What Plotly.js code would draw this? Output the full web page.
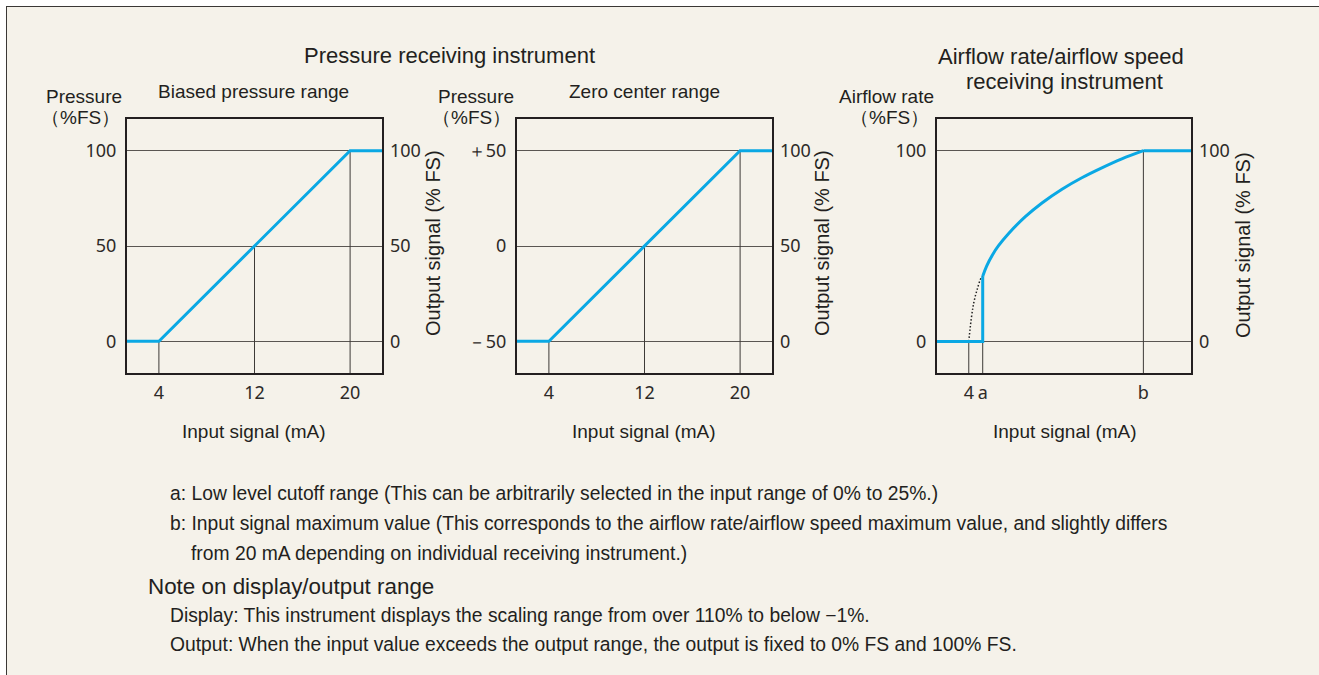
<!DOCTYPE html>
<html>
<head>
<meta charset="utf-8">
<script src="https://cdn.plot.ly/plotly-3.0.1.min.js"></script>
<style>
  html, body { margin:0; padding:0; background:#ffffff; }
  #panel { position:absolute; left:6px; top:6px; width:1313px; height:669px; background:#f5f2ea; border-top:1px solid #3a3735; border-left:1px solid #3a3735; box-sizing:border-box; }
  #chart { position:absolute; left:0; top:0; width:1319px; height:675px; }
</style>
</head>
<body>
<div id="panel"></div>
<div id="chart"></div>
<script>
// ---------------- data ----------------
// Biased pressure range: input (mA) vs pressure (%FS)
const biasedInput    = [0, 4, 20, 24];
const biasedPressure = [0, 0, 100, 100];
const biasedTicks    = [4, 12, 20];
const biasedDropY    = [0, 50, 100];
const biasedLeftVals = [0, 50, 100];
const biasedLeftText = ['0', '50', '100'];
const biasedRightText = ['0', '50', '100'];

// Zero center range
const zeroInput    = [0, 4, 20, 24];
const zeroPressure = [-50, -50, 50, 50];
const zeroTicks    = [4, 12, 20];
const zeroDropY    = [-50, 0, 50];
const zeroLeftVals = [-50, 0, 50];
const zeroLeftText = ['－50', '0', '＋50'];
const zeroRightText = ['0', '50', '100'];

// Airflow rate receiving instrument
const cutA = 5.17;   // "a" low level cutoff
const maxB = 18.67;  // "b" input signal maximum
const airStepInput = [0, 5.17, 5.17];
const airStepRate  = [0, 0, 34.2];
const airCurveInput = [5.17, 5.5, 6.0, 6.5, 7.35, 8.75, 10.15, 11.83, 13.5, 15.18, 16.86, 18.67];
const airCurveRate  = [34.2, 39.5, 45.5, 50.2, 56.6, 65.4, 72.6, 79.8, 85.8, 91.0, 95.7, 100];
const airTopInput = [18.67, 24];
const airTopRate  = [100, 100];
const airDotInput = [4, 4.2, 4.42, 4.7, 5.04, 5.17];
const airDotRate  = [0, 11.5, 20.3, 27.2, 33.4, 34.2];
const airTicks    = [4, 5.17, 18.67];
const airTickText = ['4', 'a', 'b'];
const airDropX    = [4, 5.17, 18.67];
const airDropY    = [0, 0, 100];
const airLeftVals = [0, 100];
const airLeftText = ['0', '100'];
const airRightText = ['0', '100'];

// ---------------- layout helpers ----------------
const W = 1319, H = 675;
const px = v => v / W;
const py = v => 1 - v / H;
const BLUE = '#0aa8e4';
const INK = '#231f20';
const GRID = '#5a5652';
const TXT = 'Liberation Sans, Arial, sans-serif';
const TICKF = 'Noto Sans, Open Sans, sans-serif';
const XR = [1.33, 22.67];

const traces = [];
function dropLines(xs, ys, bottom, xa, ya) {
  xs.forEach((x, i) => {
    traces.push({x: [x, x], y: [bottom, ys[i]], xaxis: xa, yaxis: ya, mode: 'lines',
      line: {color: '#3d3a37', width: 1}, hoverinfo: 'skip', showlegend: false});
  });
}
dropLines(biasedTicks, biasedDropY, -20, 'x', 'y');
dropLines(zeroTicks, zeroDropY, -70, 'x2', 'y2');
dropLines(airDropX, airDropY, -20, 'x3', 'y3');

traces.push({x: airDotInput, y: airDotRate, xaxis: 'x3', yaxis: 'y3', mode: 'lines',
  line: {color: '#222', width: 1.5, dash: '1.5px,2px', shape: 'spline'}, showlegend: false});
traces.push({x: biasedInput, y: biasedPressure, xaxis: 'x', yaxis: 'y', mode: 'lines',
  line: {color: BLUE, width: 3}, showlegend: false});
traces.push({x: zeroInput, y: zeroPressure, xaxis: 'x2', yaxis: 'y2', mode: 'lines',
  line: {color: BLUE, width: 3}, showlegend: false});
traces.push({x: airStepInput, y: airStepRate, xaxis: 'x3', yaxis: 'y3', mode: 'lines',
  line: {color: BLUE, width: 3}, showlegend: false});
traces.push({x: airCurveInput, y: airCurveRate, xaxis: 'x3', yaxis: 'y3', mode: 'lines',
  line: {color: BLUE, width: 3, shape: 'spline', smoothing: 1}, showlegend: false});
traces.push({x: airTopInput, y: airTopRate, xaxis: 'x3', yaxis: 'y3', mode: 'lines',
  line: {color: BLUE, width: 3}, showlegend: false});

function xAxis(d0, d1, anchor, vals, text) {
  return {domain: [px(d0), px(d1)], anchor: anchor, range: XR, fixedrange: true,
    tickmode: 'array', tickvals: vals, ticktext: text || vals.map(String), ticks: '',
    ticklabelstandoff: 2, showgrid: false, zeroline: false, showline: true, mirror: true,
    linecolor: INK, linewidth: 2, tickfont: {family: TICKF, size: 18, color: '#2d2a28'}};
}
function yAxis(anchor, range, vals, text) {
  return {domain: [py(373), py(119)], anchor: anchor, range: range, fixedrange: true,
    tickmode: 'array', tickvals: vals, ticktext: text, ticks: '', ticklabelstandoff: 5,
    showgrid: true, gridcolor: GRID, gridwidth: 1, zeroline: false, showline: true, mirror: true,
    linecolor: INK, linewidth: 2, tickfont: {family: TICKF, size: 18, color: '#2d2a28'}};
}
function yRight(over, anchor, range, vals, text) {
  return {overlaying: over, side: 'right', anchor: anchor, range: range, fixedrange: true,
    tickmode: 'array', tickvals: vals, ticktext: text, ticks: '', ticklabelstandoff: 7,
    showgrid: false, zeroline: false, showline: false,
    tickfont: {family: TICKF, size: 18, color: '#2d2a28'}};
}

const YR1 = [-16.7, 116.7], YR2 = [-66.7, 66.7], YR3 = [-16.5, 116.6];

function f(size) { return {family: TXT, size: size, color: INK}; }
function ann(text, x, y, opts) {
  return Object.assign({text: text, x: px(x), y: py(y), xref: 'paper', yref: 'paper',
    showarrow: false, xanchor: 'center', yanchor: 'middle', font: f(19)}, opts || {});
}
const R = {xanchor: 'right'};
function left(size) { return {xanchor: 'left', font: f(size)}; }

const annotations = [
  ann('Pressure receiving instrument', 449, 56, {font: f(22)}),
  ann('Airflow rate/airflow speed', 1061, 57, {font: f(22)}),
  ann('receiving instrument', 1064, 81, {font: f(22)}),
  ann('Biased pressure range', 253, 91),
  ann('Zero center range', 644, 91),
  ann('Pressure', 124, 97, R),
  ann('（%FS）', 122, 117, R),
  ann('Pressure', 516, 96, R),
  ann('（%FS）', 513, 117, R),
  ann('Airflow rate', 936, 96, R),
  ann('（%FS）', 931, 117, R),
  ann('Output signal (% FS)', 433, 243, {textangle: -90, font: f(20)}),
  ann('Output signal (% FS)', 822, 243, {textangle: -90, font: f(20)}),
  ann('Output signal (% FS)', 1243, 245, {textangle: -90, font: f(20)}),
  ann('Input signal (mA)', 254, 431),
  ann('Input signal (mA)', 644, 431),
  ann('Input signal (mA)', 1065, 431),
  ann('a: Low level cutoff range (This can be arbitrarily selected in the input range of 0% to 25%.)', 168, 493, left(19.3)),
  ann('b: Input signal maximum value (This corresponds to the airflow rate/airflow speed maximum value, and slightly differs', 168, 523, left(19.3)),
  ann('from 20 mA depending on individual receiving instrument.)', 189, 553, left(19.3)),
  ann('Note on display/output range', 146, 586, left(22.4)),
  ann('Display: This instrument displays the scaling range from over 110% to below −1%.', 168, 615, left(19.3)),
  ann('Output: When the input value exceeds the output range, the output is fixed to 0% FS and 100% FS.', 168, 644, left(19.3))
];

const layout = {
  width: W, height: H, margin: {l: 0, r: 0, t: 0, b: 0},
  paper_bgcolor: 'rgba(0,0,0,0)', plot_bgcolor: 'rgba(0,0,0,0)',
  showlegend: false, hovermode: false,
  font: {family: TXT, color: INK},
  xaxis:  xAxis(127, 382, 'y', biasedTicks),
  xaxis2: xAxis(517, 772, 'y2', zeroTicks),
  xaxis3: xAxis(937, 1191, 'y3', airTicks, airTickText),
  yaxis:  yAxis('x', YR1, biasedLeftVals, biasedLeftText),
  yaxis2: yAxis('x2', YR2, zeroLeftVals, zeroLeftText),
  yaxis3: yAxis('x3', YR3, airLeftVals, airLeftText),
  yaxis4: yRight('y', 'x', YR1, biasedLeftVals, biasedRightText),
  yaxis5: yRight('y2', 'x2', YR2, zeroLeftVals, zeroRightText),
  yaxis6: yRight('y3', 'x3', YR3, airLeftVals, airRightText),
  annotations: annotations
};

// overlay axes need a trace to render their ticks
traces.push({x: [null], y: [null], xaxis: 'x', yaxis: 'y4', mode: 'lines', showlegend: false, hoverinfo: 'skip'});
traces.push({x: [null], y: [null], xaxis: 'x2', yaxis: 'y5', mode: 'lines', showlegend: false, hoverinfo: 'skip'});
traces.push({x: [null], y: [null], xaxis: 'x3', yaxis: 'y6', mode: 'lines', showlegend: false, hoverinfo: 'skip'});

Plotly.newPlot('chart', traces, layout, {staticPlot: true, displayModeBar: false});
</script>
</body>
</html>
